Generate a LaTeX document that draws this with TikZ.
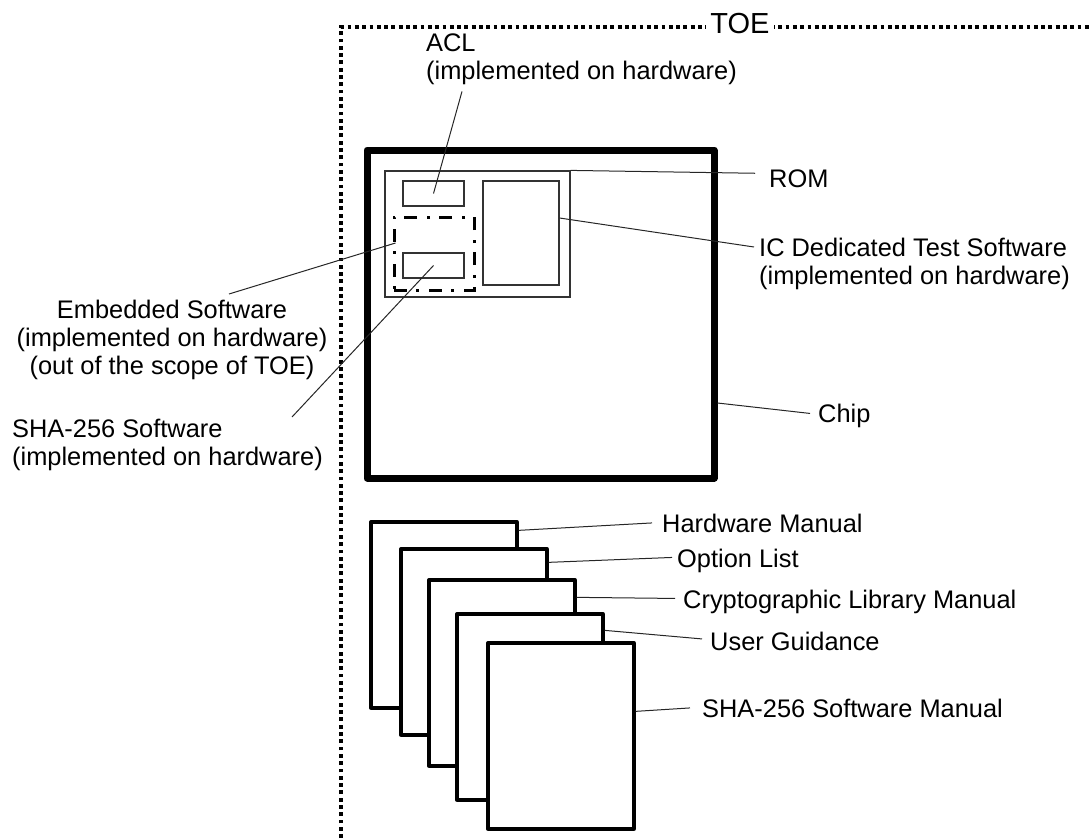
\documentclass[tikz,border=0pt]{standalone}
\usepackage{fontspec}
\setmainfont{Liberation Sans}
\usetikzlibrary{positioning}

\tikzset{
  lbl/.style={font=\fontsize{25.4}{28}\selectfont, inner sep=0pt},
  lead/.style={line width=1pt, black!85},
  thinbox/.style={draw, black!80, line width=1.2pt, inner sep=0pt},
  page/.style={draw, fill=white, line width=3.3pt, line join=round, inner sep=0pt,
    minimum width=146pt, minimum height=186pt},
  toeline/.style={line width=3.5pt, dash pattern=on 3.8pt off 3.5pt}
}

\begin{document}
\begin{tikzpicture}[x=1pt,y=-1pt]
  \useasboundingbox (0,0) rectangle (1091,838);
  % TOE boundary
  \draw[toeline] (341,838) -- (341,27) -- (1091,27);
  \node[font=\fontsize{29}{32}\selectfont, fill=white, inner xsep=4pt, inner ysep=1pt, anchor=base] (toe) at (740,33) {TOE};

  % chip and its parts
  \node[draw, line width=7pt, line join=round, inner sep=0pt, minimum width=347pt, minimum height=328pt] (chip) at (540.5,314) {};
  \node[thinbox, minimum width=185pt, minimum height=126pt] (rom) at (477.5,234) {};
  \node[thinbox, minimum width=61pt, minimum height=25pt] (acl) at (433.5,193.5) {};
  \node[thinbox, minimum width=61pt, minimum height=25pt] (sha) at (433.5,265.5) {};
  \node[thinbox, minimum width=76pt, minimum height=104pt] (ic) at (521,233) {};
  \node[draw, line width=3pt, inner sep=0pt, dash pattern=on 13pt off 9pt on 3pt off 10pt,
    minimum width=80pt, minimum height=73pt] (emb) at (434,253.5) {};

  % documents
  \foreach \n/\x/\y in {1/444/615, 2/474/642, 3/502/673, 4/530/707, 5/561/736}
    \node[page] (p\n) at (\x,\y) {};

  % labels
  \node[lbl, anchor=north west, align=left] (acllbl) at (426,34) {ACL\\(implemented on hardware)};
  \node[lbl, anchor=base west] (romlbl) at (769,187) {ROM};
  \node[lbl, anchor=north west, align=left] (iclbl) at (759,237.5) {IC Dedicated Test Software\\(implemented on hardware)};
  \node[lbl, anchor=north, align=center] (emblbl) at (172,299.5) {Embedded Software\\(implemented on hardware)\\(out of the scope of TOE)};
  \node[lbl, anchor=north west, align=left] (shalbl) at (12,418.5) {SHA-256 Software\\(implemented on hardware)};
  \node[lbl, anchor=base west] (chiplbl) at (818,422) {Chip};
  \node[lbl, anchor=base west] (hwlbl) at (662,532) {Hardware Manual};
  \node[lbl, anchor=base west] (optlbl) at (677,567) {Option List};
  \node[lbl, anchor=base west] (cryptolbl) at (683,608) {Cryptographic Library Manual};
  \node[lbl, anchor=base west] (uglbl) at (710,650) {User Guidance};
  \node[lbl, anchor=base west] (shamanlbl) at (702,717) {SHA-256 Software Manual};

  % leader lines
  \draw[lead] (acl.center) -- ([shift={(36,6)}]acllbl.south west);
  \draw[lead] (rom.north east) -- ([shift={(-14,-5)}]romlbl.west);
  \draw[lead] ([yshift=15pt]ic.east) -- ([shift={(-5,9.5)}]iclbl.north west);
  \draw[lead] ([shift={(3,-10.5)}]emb.west) -- ([shift={(57,-5.5)}]emblbl.north);
  \draw[lead] (sha.center) -- ([shift={(280,-1.5)}]shalbl.north west);
  \draw[lead] ([yshift=-89pt]chip.east) -- ([shift={(-8,-2)}]chiplbl.west);
  \draw[lead] ([yshift=-10pt]p1.north east) -- ([shift={(-10,0)}]hwlbl.west);
  \draw[lead] ([yshift=-15pt]p2.north east) -- ([shift={(-5,-3)}]optlbl.west);
  \draw[lead] ([yshift=-19pt]p3.north east) -- ([shift={(-8,-3)}]cryptolbl.west);
  \draw[lead] ([yshift=-18pt]p4.north east) -- ([shift={(-8,-2)}]uglbl.west);
  \draw[lead] ([yshift=-70pt]p5.north east) -- ([shift={(-12,0)}]shamanlbl.west);
\end{tikzpicture}
\end{document}
